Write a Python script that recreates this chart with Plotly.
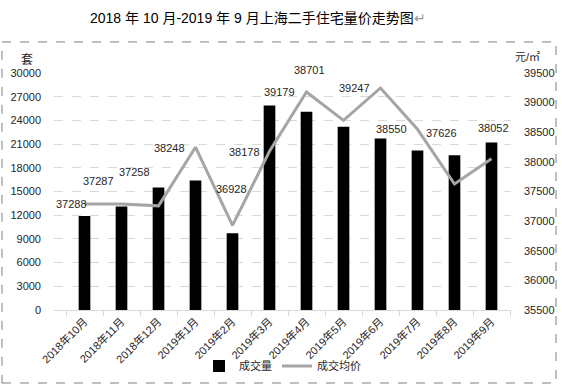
import plotly.graph_objects as go

months = ["2018年10月", "2018年11月", "2018年12月", "2019年1月", "2019年2月", "2019年3月",
          "2019年4月", "2019年5月", "2019年6月", "2019年7月", "2019年8月", "2019年9月"]
volume = [11900, 13100, 15500, 16400, 9700, 25900, 25100, 23200, 21700, 20200, 19600, 21200]
price = [37288, 37287, 37258, 38248, 36928, 38178, 39179, 38701, 39247, 38550, 37626, 38052]

# label offsets in pixels (dx right, dy up), mimicking the manual placement
label_dx = [-13, -23, -24, -26, -1, -25, -27, -34, -26, -26, -13, 2]
label_dy = [0, 23, 34, -1, 36, -1, 0, 50, 0, 0, 51, 31]

FONT = "Liberation Sans, Noto Sans CJK SC, sans-serif"
TXT = "#262626"

fig = go.Figure()
fig.add_trace(go.Bar(x=months, y=volume, name="成交量", marker_color="#000000",
                     marker_line_width=0, yaxis="y"))
fig.add_trace(go.Scatter(x=months, y=price, name="成交均价", mode="lines",
                         line=dict(color="#a5a5a5", width=3), yaxis="y2"))

for m, p, dx, dy in zip(months, price, label_dx, label_dy):
    fig.add_annotation(x=m, y=p, xref="x", yref="y2", text=str(p), showarrow=False,
                       xanchor="center", yanchor="middle",
                       xshift=dx, yshift=dy, font=dict(size=11, color=TXT, family=FONT))

fig.add_annotation(x=-0.059, y=1.055, xref="paper", yref="paper", text="套", showarrow=False,
                   xanchor="center", yanchor="middle",
                   font=dict(size=12, color=TXT, family=FONT))
fig.add_annotation(x=1.037, y=1.067, xref="paper", yref="paper", text="元/㎡", showarrow=False,
                   xanchor="center", yanchor="middle",
                   font=dict(size=11, color=TXT, family=FONT))
fig.add_annotation(x=0.446, y=1.232, xref="paper", yref="paper",
                   text="2018 年 10 月-2019 年 9 月上海二手住宅量价走势图<span style='color:#999999'>↵</span>",
                   xanchor="center", yanchor="middle",
                   showarrow=False, font=dict(size=14, color="#000000", family=FONT))

fig.add_shape(type="rect", xref="paper", yref="paper", x0=-0.1138, x1=1.0985, y0=-0.308, y1=1.131,
              line=dict(color="#808080", width=1, dash="dash"), layer="below")

fig.update_layout(
    width=562, height=392,
    margin=dict(l=54, r=51, t=73, b=82),
    paper_bgcolor="white", plot_bgcolor="white",
    bargap=0.685,
    font=dict(family=FONT, size=11, color=TXT),
    showlegend=True,
    legend=dict(orientation="h", x=0.5, xanchor="center", y=-0.236, yanchor="middle",
                font=dict(size=11, color=TXT), bgcolor="rgba(0,0,0,0)"),
    xaxis=dict(showline=True, linecolor="#d9d9d9", linewidth=1, ticks="outside",
               tickson="boundaries", ticklen=5, tickcolor="#d9d9d9", tickangle=-45,
               tickfont=dict(size=11, color=TXT), showgrid=False, automargin=False),
    yaxis=dict(range=[0, 30000], dtick=3000, tickformat="d", showgrid=True, gridcolor="#d9d9d9",
               griddash="dash", gridwidth=1, zeroline=False, showline=False, automargin=False,
               ticklabelstandoff=12, tickfont=dict(size=11, color=TXT)),
    yaxis2=dict(range=[35500, 39500], dtick=500, tickformat="d", overlaying="y", side="right",
                showgrid=False, zeroline=False, showline=False, automargin=False,
                ticklabelstandoff=12, tickfont=dict(size=11, color=TXT)),
)

fig.write_html("out.html", config={"displayModeBar": False},
               post_script="document.body.style.margin='0';")
